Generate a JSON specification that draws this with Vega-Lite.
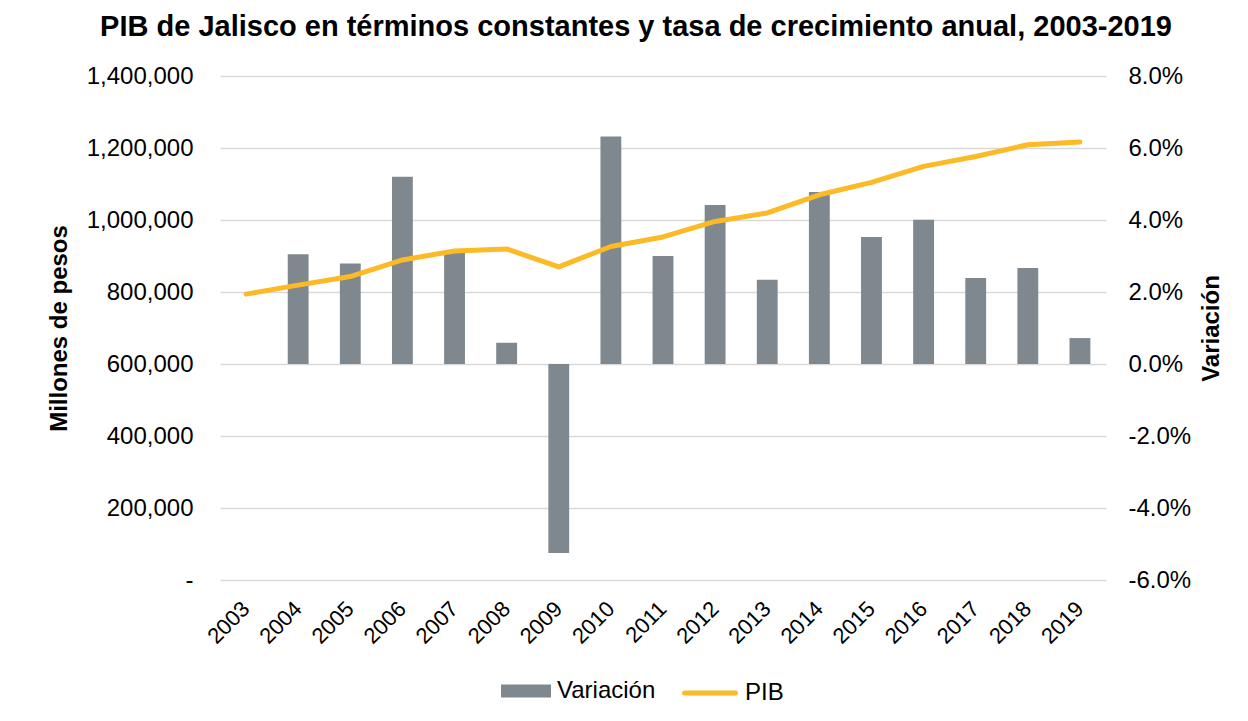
{
  "$schema": "https://vega.github.io/schema/vega-lite/v6.json",
  "width": 886,
  "height": 504,
  "autosize": {"type": "none"},
  "padding": {"left": 220, "top": 76, "right": 142, "bottom": 141},
  "background": "white",
  "title": {
    "text": "PIB de Jalisco en términos constantes y tasa de crecimiento anual, 2003-2019",
    "font": "Liberation Sans",
    "fontSize": 29,
    "fontWeight": "bold",
    "color": "black",
    "anchor": "middle",
    "dx": -27,
    "offset": 22
  },
  "config": {
    "view": {"stroke": null},
    "axis": {
      "labelFont": "Liberation Sans",
      "titleFont": "Liberation Sans",
      "labelColor": "black",
      "titleColor": "black",
      "ticks": false,
      "domain": false
    }
  },
  "data": {
    "values": [
      {"year": "2003", "pib": 794000, "var": null},
      {"year": "2004", "pib": 819000, "var": 0.0305},
      {"year": "2005", "pib": 843000, "var": 0.0279},
      {"year": "2006", "pib": 889000, "var": 0.052},
      {"year": "2007", "pib": 914000, "var": 0.0308},
      {"year": "2008", "pib": 919500, "var": 0.0059},
      {"year": "2009", "pib": 870000, "var": -0.0525},
      {"year": "2010", "pib": 926500, "var": 0.0632},
      {"year": "2011", "pib": 953000, "var": 0.03},
      {"year": "2012", "pib": 996000, "var": 0.0442},
      {"year": "2013", "pib": 1019500, "var": 0.0234},
      {"year": "2014", "pib": 1070000, "var": 0.0478},
      {"year": "2015", "pib": 1104500, "var": 0.0353},
      {"year": "2016", "pib": 1149000, "var": 0.0401},
      {"year": "2017", "pib": 1176500, "var": 0.0239},
      {"year": "2018", "pib": 1209000, "var": 0.0267},
      {"year": "2019", "pib": 1217000, "var": 0.0072}
    ]
  },
  "encoding": {
    "x": {
      "field": "year",
      "type": "ordinal",
      "scale": {"paddingInner": 0.6, "paddingOuter": 0.3},
      "axis": {
        "title": null,
        "labelAngle": -45,
        "labelAlign": "right",
        "labelBaseline": "middle",
        "labelFontSize": 22,
        "labelPadding": 25
      }
    }
  },
  "layer": [
    {
      "mark": {"type": "bar"},
      "encoding": {
        "y": {
          "field": "var",
          "type": "quantitative",
          "scale": {"domain": [-0.06, 0.08], "nice": false},
          "axis": {
            "orient": "right",
            "title": "Variación",
            "titleFontSize": 24,
            "titleFontWeight": "bold",
            "titleAngle": 270,
            "titleBaseline": "top",
            "titlePadding": 9,
            "values": [-0.06, -0.04, -0.02, 0, 0.02, 0.04, 0.06, 0.08],
            "labelExpr": "replace(format(datum.value, '.1%'), '\u2212', '-')",
            "labelFontSize": 24,
            "labelPadding": 22,
            "grid": false
          }
        },
        "fill": {
          "datum": "Variación",
          "type": "nominal",
          "scale": {"range": ["#7F888E"]},
          "legend": {
            "orient": "none",
            "legendX": 281,
            "legendY": 590,
            "title": null,
            "padding": 0,
            "labelFont": "Liberation Sans",
            "labelFontSize": 24,
            "labelColor": "black",
            "labelOffset": 6,
            "symbolType": "M-1,-0.26H1V0.26H-1Z",
            "symbolSize": 2500,
            "symbolStrokeWidth": 0,
            "symbolOpacity": 1
          }
        }
      }
    },
    {
      "mark": {"type": "line", "strokeWidth": 5, "strokeCap": "round", "strokeJoin": "round"},
      "encoding": {
        "y": {
          "field": "pib",
          "type": "quantitative",
          "scale": {"domain": [0, 1400000], "nice": false},
          "axis": {
            "orient": "left",
            "title": "Millones de pesos",
            "titleFontSize": 24,
            "titleFontWeight": "bold",
            "titlePadding": 15,
            "values": [0, 200000, 400000, 600000, 800000, 1000000, 1200000, 1400000],
            "labelExpr": "datum.value == 0 ? '-\u00a0\u00a0' : format(datum.value, ',')",
            "labelFontSize": 24,
            "labelPadding": 27,
            "grid": true,
            "gridColor": "#D9D9D9",
            "gridWidth": 1.5
          }
        },
        "stroke": {
          "datum": "PIB",
          "type": "nominal",
          "scale": {"range": ["#FBBA26"]},
          "legend": {
            "orient": "none",
            "legendX": 462,
            "legendY": 589,
            "title": null,
            "padding": 0,
            "labelFont": "Liberation Sans",
            "labelFontSize": 24,
            "labelColor": "black",
            "labelOffset": 7,
            "symbolType": "stroke",
            "symbolSize": 2601,
            "symbolStrokeWidth": 5,
            "encode": {"symbols": {"update": {"strokeCap": {"value": "round"}}}}
          }
        }
      }
    }
  ],
  "resolve": {"scale": {"y": "independent"}}
}
